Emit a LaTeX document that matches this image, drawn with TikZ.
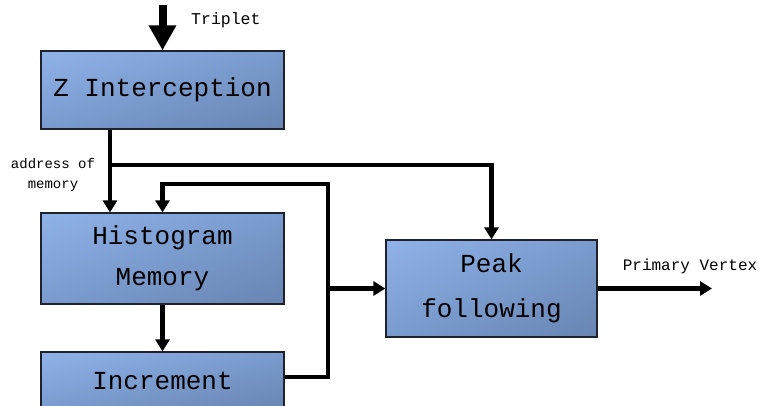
\documentclass[tikz,border=0pt]{standalone}
\usepackage{fontspec}
\setmonofont{Liberation Mono}
\usepackage{tikz}
\usetikzlibrary{positioning,arrows.meta,shadings}
\definecolor{blkhi}{RGB}{143,178,232}
\definecolor{blkmid}{RGB}{122,155,206}
\definecolor{blklo}{RGB}{104,133,178}
\definecolor{blkedge}{RGB}{30,34,44}

\begin{document}
\begin{tikzpicture}[
  x=1pt, y=-1pt,
  blk/.style={rectangle, draw=blkedge, line width=1.2pt,
    upper left=blkhi, upper right=blkmid, lower left=blkmid, lower right=blklo,
    inner sep=2pt, align=center, font=\ttfamily\fontsize{26}{41}\selectfont},
  lbl/.style={inner sep=0pt, font=\ttfamily\fontsize{16}{19}\selectfont},
  conn/.style={draw, line width=4.5pt, -{Triangle[width=14pt,length=12pt]}},
  feed/.style={draw, line width=8pt, -{Triangle[width=26pt,length=25pt]}},
]
\useasboundingbox (0,0) rectangle (759,405);
\clip (0,0) rectangle (759,405);

% --- Blocks ---
\node[blk, minimum width=243pt, minimum height=78pt] (zint) at (162.5,90) {Z Interception};
\node[blk, minimum width=243pt, minimum height=91pt] (hist) at (162.5,258.5) {Histogram\\Memory};
\node[blk, minimum width=243pt, minimum height=58pt] (incr) at (162.5,381) {Increment};
\node[blk, minimum width=211pt, minimum height=97pt,
  font=\ttfamily\fontsize{26}{45}\selectfont] (peak) at (491.5,288.5) {Peak\\following};

% --- Junctions ---
\coordinate (trip) at (162.5,5);
\coordinate (split) at (110,165);
\coordinate (loop) at (328,184);
\coordinate (tap) at (328,288.5);
\coordinate (pv) at (712,288.5);

% --- Labels ---
\node[lbl, anchor=west, font=\ttfamily\fontsize{16.5}{19}\selectfont] (tlbl) at (191,20) {Triplet};
\node[lbl, align=center, font=\ttfamily\fontsize{14}{20}\selectfont] (albl) at (53,175) {address of\\memory};
\node[lbl] (pvlbl) at (690,266) {Primary Vertex};

% --- Connectors ---
\draw[feed] (trip) -- (zint.north);
\draw[conn] ([xshift=-52.5pt]zint.south) -- ([xshift=-52.5pt]hist.north);
\draw[conn] (split) -| (peak.north);
\draw[conn] (hist.south) -- (incr.north);
\draw[conn] ([yshift=4pt]incr.east) -| (loop) -| (hist.north);
\draw[conn] (tap) -- (peak.west);
\draw[conn] (peak.east) -- (pv);
\end{tikzpicture}
\end{document}
